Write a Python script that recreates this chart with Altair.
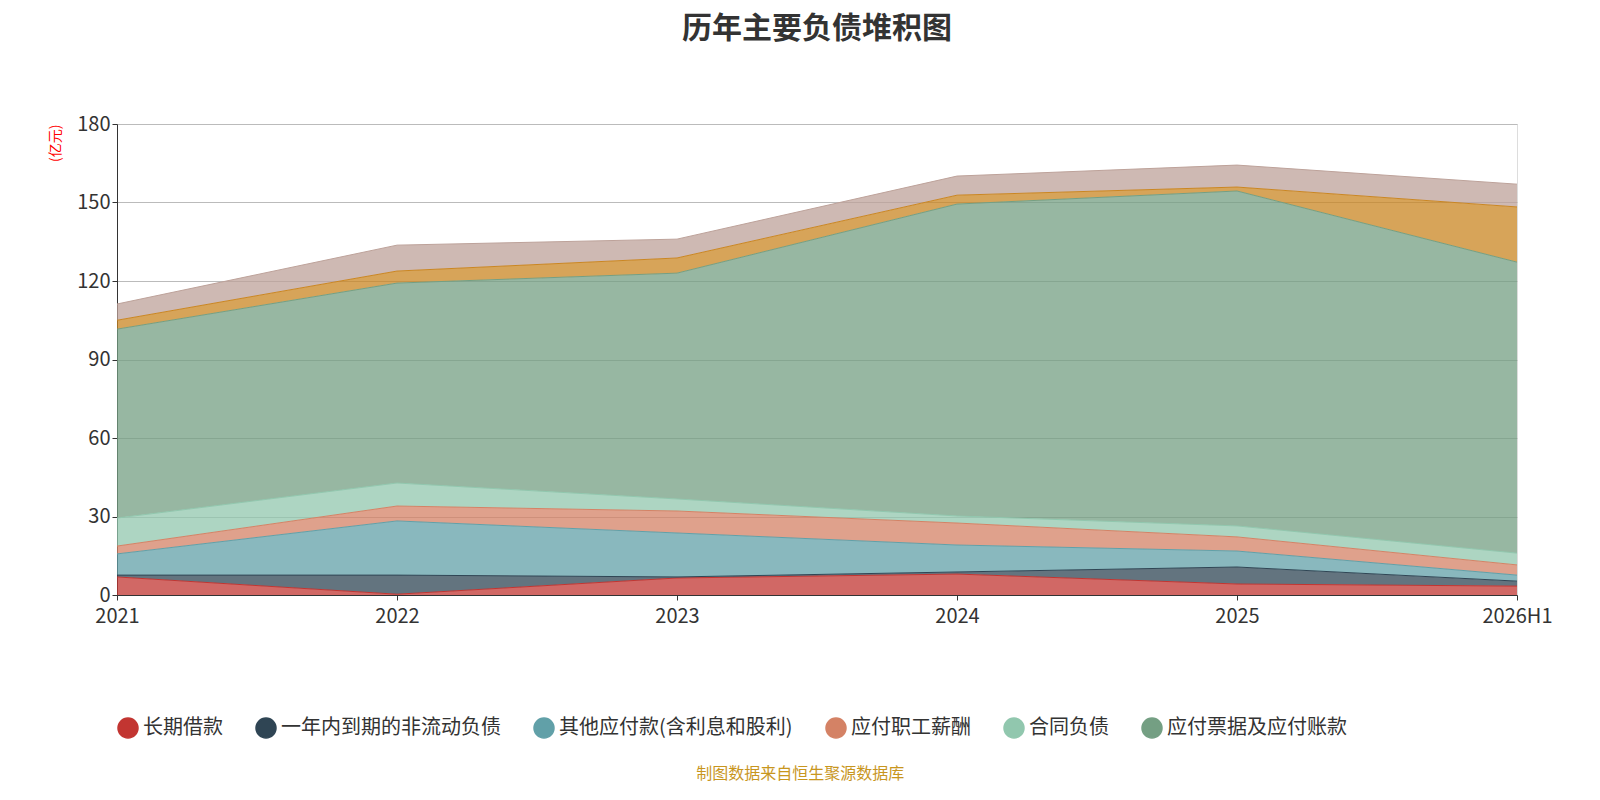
import altair as alt
import pandas as pd

years = ["2021", "2022", "2023", "2024", "2025", "2026H1"]
series = ["长期借款", "一年内到期的非流动负债", "其他应付款(含利息和股利)", "应付职工薪酬",
          "合同负债", "应付票据及应付账款", "短期借款", "应付债券"]
colors = ["#c23531", "#2f4554", "#61a0a8", "#d48265", "#91c7ae", "#749f83", "#ca8622", "#bda29a"]
vals = [
    [6.9, 0.3, 6.5, 8.0, 4.2, 3.4],
    [0.7, 7.3, 0.4, 0.8, 6.5, 1.9],
    [8.1, 20.7, 16.8, 10.3, 6.1, 2.3],
    [3.0, 5.7, 8.4, 8.4, 5.4, 3.9],
    [10.7, 8.8, 4.6, 2.7, 4.2, 4.5],
    [72.2, 76.4, 86.3, 119.2, 128.0, 111.2],
    [3.4, 4.6, 5.8, 3.4, 1.5, 21.1],
    [6.2, 9.9, 7.2, 7.3, 8.4, 8.7],
]

rows = []
for i, s in enumerate(series):
    for j, y in enumerate(years):
        rows.append({"year": y, "series": s, "value": vals[i][j], "order": i})
df = pd.DataFrame(rows)

area = alt.Chart(df).mark_area(opacity=0.75, line={"strokeWidth": 1}).encode(
    x=alt.X("year:N", sort=years, scale=alt.Scale(type="point", padding=0),
            axis=alt.Axis(title=None, labelAngle=0, labelFontSize=20, labelColor="#333",
                          domainColor="#333", ticks=True, tickColor="#333", grid=False,
                          labelPadding=6)),
    y=alt.Y("value:Q", stack="zero", scale=alt.Scale(domain=[0, 180]),
            axis=alt.Axis(title="(亿元)", titleColor="red", titleFontSize=14, titleFontWeight="normal",
                          values=[0, 30, 60, 90, 120, 150, 180], labelFontSize=20, labelColor="#333",
                          domainColor="#333", tickColor="#333", gridColor="#bbb",
                          titleAnchor="end", titleAngle=-90, titlePadding=14)),
    color=alt.Color("series:N", sort=series, scale=alt.Scale(domain=series, range=colors),
                    legend=alt.Legend(orient="bottom", direction="horizontal", title=None,
                                      values=series[:6], symbolType="circle", symbolSize=400,
                                      labelFontSize=20, labelColor="#333", columns=6,
                                      symbolOpacity=1, offset=90, columnPadding=30, labelLimit=300)),
    order=alt.Order("order:Q"),
).properties(width=1400, height=471,
             title=alt.TitleParams("历年主要负债堆积图", fontSize=30, fontWeight="bold", color="#333",
                                   anchor="middle", offset=70))

chart = alt.vconcat(area).properties(
    padding={"left": 40, "top": 5, "right": 10, "bottom": 5},
    title=alt.TitleParams("制图数据来自恒生聚源数据库", orient="bottom", fontSize=16,
                          fontWeight="normal", color="#c8961e", anchor="middle", offset=25)
).configure_view(stroke=None).configure(font="Noto Sans CJK SC")

chart.save("out.html", embed_options={"renderer": "svg", "actions": False})
